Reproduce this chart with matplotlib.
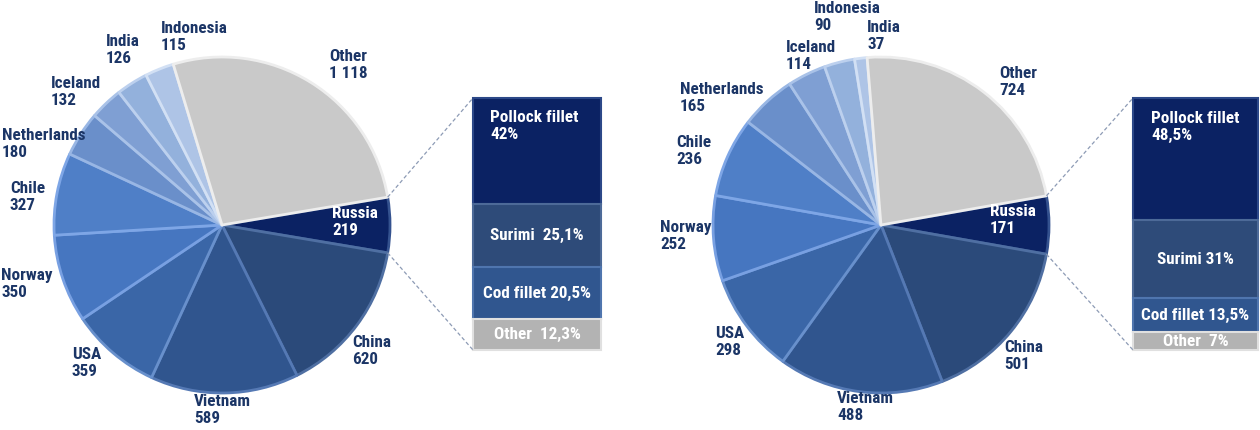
import matplotlib
matplotlib.use('Agg')
import matplotlib.pyplot as plt
from matplotlib import font_manager
from matplotlib.font_manager import FontProperties
from matplotlib.textpath import TextPath
import numpy as np

# ---- data ----
countries_left = ['Russia', 'China', 'Vietnam', 'USA', 'Norway', 'Chile',
                  'Netherlands', 'Iceland', 'India', 'Indonesia', 'Other']
values_left = [219, 620, 589, 359, 350, 327, 180, 132, 126, 115, 1118]
# on the right pie India sits next to Other
countries_right = ['Russia', 'China', 'Vietnam', 'USA', 'Norway', 'Chile',
                   'Netherlands', 'Iceland', 'Indonesia', 'India', 'Other']
values_right = [171, 501, 488, 298, 252, 236, 165, 114, 90, 37, 724]

products = ['Pollock fillet', 'Surimi', 'Cod fillet', 'Other']
shares_left = [42.0, 25.1, 20.5, 12.3]
shares_right = [48.5, 31.0, 13.5, 7.0]
share_labels_left = ['Pollock fillet\n42%', 'Surimi  25,1%', 'Cod fillet 20,5%', 'Other  12,3%']
share_labels_right = ['Pollock fillet\n48,5%', 'Surimi 31%', 'Cod fillet 13,5%', 'Other  7%']

# ---- style ----
slice_colors = ['#0b2263', '#2b4a7a', '#30558e', '#3a66a7', '#4676c0', '#4f7fc7',
                '#6a8fca', '#7f9fd3', '#93b1dc', '#aec4e6', '#c9c9c9']
edge_colors = ['#34528f', '#4f6fa2', '#5579b4', '#6890cc', '#78a0e2', '#7ea6e6',
               '#98b6e4', '#a9c2e8', '#bcd0ee', '#d2e0f4', '#ededed']
bar_colors = ['#0b2263', '#2e4b79', '#30568f', '#b3b3b3']
bar_edges = ['#2c4888', '#4d6a98', '#4f75ae', '#e0e0e0']
navy = '#1b3566'
FS = 12.3

# choose the installed upright bold sans whose width is closest to the reference's
# narrow face ("Netherlands" is about 82 px wide at this size)
SANS = ('DejaVu Sans', 'Liberation Sans', 'Noto Sans', 'Roboto', 'Open Sans', 'Lato', 'Inter')
best, best_err = None, None
for f in font_manager.fontManager.ttflist:
    if f.weight not in ('bold', 700, 'semibold', 600) or f.style != 'normal':
        continue
    if not f.name.startswith(SANS) or any(k in f.name for k in ('CJK', 'Mono', 'Serif', 'Math')):
        continue
    try:
        w = TextPath((0, 0), 'Netherlands', prop=FontProperties(fname=f.fname, size=FS)).get_extents().width
    except Exception:
        continue
    err = abs(w * 100 / 72 - 82)
    if best is None or err < best_err:
        best, best_err = f, err
FONT = dict(fontproperties=FontProperties(fname=best.fname, size=FS))

fig = plt.figure(figsize=(12.6, 4.3), dpi=100)
ax = fig.add_axes([0, 0, 1, 1])

R = 168


def draw_panel(names, values, center, labels_pos, bar_x, bar_w, shares, share_labels, pollock_xy):
    total = sum(values)
    half_deg = 360.0 * values[0] / total / 2
    # y axis is inverted, so counterclock=True draws clockwise on screen
    wedges, _ = ax.pie(values, colors=slice_colors, startangle=-half_deg, counterclock=True,
                       radius=R, center=center, frame=True,
                       wedgeprops=dict(edgecolor='none', linewidth=0))
    for w, ec in zip(wedges, edge_colors):
        w.set_edgecolor(ec)
        w.set_linewidth(2.0)
        w.set_joinstyle('round')

    for name, v, (lx, ly) in zip(names, values, labels_pos):
        txt = '{}\n{}'.format(name, f'{v:,}'.replace(',', ' '))
        col = 'white' if name == 'Russia' else navy
        ax.text(lx, ly, txt, ha='left', va='top', color=col, linespacing=1.2, **FONT)

    # stacked bar breaking down Russia
    bar_top, bar_h = 98, 252
    heights = [s / sum(shares) * bar_h for s in shares]
    bottoms = bar_top + np.concatenate([[0], np.cumsum(heights)[:-1]])
    ax.bar([bar_x] * len(shares), heights, bottom=bottoms, width=bar_w, align='edge',
           color=bar_colors, edgecolor=bar_edges, linewidth=1.5)
    for i, (lab, b, h) in enumerate(zip(share_labels, bottoms, heights)):
        if i == 0:
            ax.text(pollock_xy[0], pollock_xy[1], lab, ha='left', va='top', color='white',
                    linespacing=1.2, **FONT)
        else:
            ax.text(bar_x + bar_w / 2, b + h / 2, lab, ha='center', va='center',
                    color='white', **FONT)

    # dashed connectors from Russia slice to the bar
    half = np.radians(half_deg)
    cx, cy = center
    p1 = (cx + R * np.cos(half), cy - R * np.sin(half))
    p2 = (cx + R * np.cos(half), cy + R * np.sin(half))
    ax.plot([p1[0], bar_x], [p1[1], bar_top], ls=(0, (3, 2)), color='#8d9bb5', lw=0.9)
    ax.plot([p2[0], bar_x], [p2[1], bar_top + bar_h], ls=(0, (3, 2)), color='#8d9bb5', lw=0.9)


# label anchors (top-left of each two-line label), pixel coords
left_labels = [(332, 206), (352, 335), (194, 394), (72, 347), (1, 268), (10, 181),
               (2, 128), (51, 76), (106, 34), (161, 21), (329, 49)]
right_labels = [(990, 204), (1004, 340), (837, 391), (715, 326), (660, 220), (676, 135),
                (680, 82), (786, 40), (814, 1), (867, 20), (999, 66)]

draw_panel(countries_left, values_left, (222, 225), left_labels, 473, 128,
           shares_left, share_labels_left, (490, 110))
draw_panel(countries_right, values_right, (881, 225), right_labels, 1133, 125,
           shares_right, share_labels_right, (1151, 111))

ax.set_xlim(0, 1260)
ax.set_ylim(430, 0)
ax.set_aspect('auto')
ax.axis('off')

fig.savefig('out.png', dpi=100, facecolor='white')
